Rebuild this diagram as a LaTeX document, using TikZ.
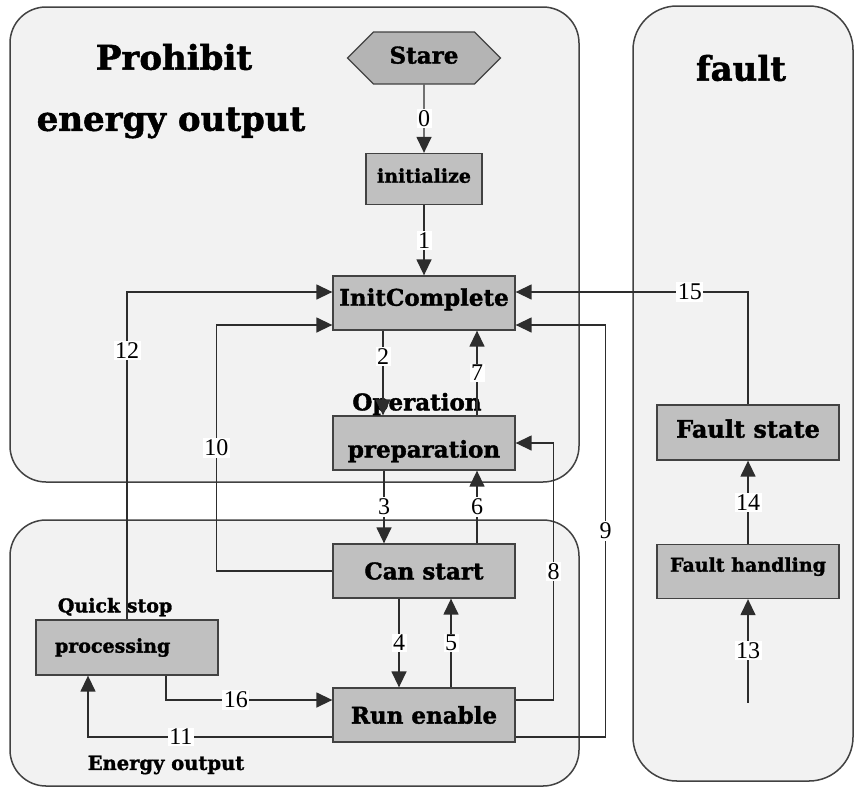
\documentclass[tikz,border=0pt]{standalone}
\usepackage{fontspec}
\setmainfont{DejaVu Serif}[BoldFeatures={FakeBold=1.5}]
\newfontfamily\numfont{Liberation Serif}
\usepackage{tikz}
\usetikzlibrary{shapes, arrows.meta, positioning}
\definecolor{boxgray}{RGB}{192,192,192}
\definecolor{stategray}{RGB}{180,180,180}
\definecolor{areagray}{RGB}{242,242,242}
\definecolor{linegray}{RGB}{45,45,45}
\newcommand{\boxfont}{\fontsize{23}{26}\selectfont\bfseries}
\newcommand{\smallboxfont}{\fontsize{19}{20}\selectfont\bfseries}
\tikzstyle{block} = [draw=linegray!90, fill=boxgray, rectangle, line width=1.3pt, minimum width=182pt, minimum height=54pt, inner sep=0pt, font=\boxfont]
\tikzstyle{area} = [draw=linegray!90, fill=areagray, line width=1.5pt, rounded corners=36pt]
\tikzstyle{title} = [font=\fontsize{34}{34}\selectfont\bfseries]
\tikzstyle{num} = [fill=white, inner sep=1.5pt, font=\fontsize{24}{24}\selectfont\numfont]
\tikzstyle{link} = [draw=linegray, line width=1.4pt, ->]

\begin{document}
\begin{tikzpicture}[x=1pt, y=1pt, >={Triangle[length=16pt, width=15pt]}]
  \useasboundingbox (0,0) rectangle (856,-790);
  % zones
  \draw [area] (10,-7) rectangle (579,-482);
  \draw [area] (10,-520) rectangle (579,-786);
  \draw [area, rounded corners=44pt] (633,-6) rectangle (853,-781);
  \node [title] (prohibit) at (174,-57) {Prohibit};
  \node [title] (energyoff) at (171,-123) {energy output};
  \node [title, font=\fontsize{34}{34}\selectfont\bfseries] (faulttitle) at (741,-68) {fault};
  \node [font=\fontsize{19.5}{19.5}\selectfont\bfseries] (energyon) at (166,-765) {Energy output};

  % states
  \node [block, shape=signal, signal to=west and east, signal pointer angle=90, fill=stategray, minimum width=153pt, minimum height=52pt, text depth=6pt, font=\fontsize{23}{23}\selectfont\bfseries] (stare) at (424,-58) {Stare};
  \node [block, below of=stare, node distance=121pt, minimum width=116pt, minimum height=51pt, text depth=7pt, font=\fontsize{19}{19}\selectfont\bfseries] (init) {initialize};
  \node [block, below of=init, node distance=124pt, text depth=12pt] (initc) {InitComplete};
  \node [block, below of=initc, node distance=140pt, text height=34pt, text depth=5pt, label={[anchor=base, xshift=-7pt, yshift=5pt, font=\boxfont]north:Operation}] (prep) {preparation};
  \node [block, below of=prep, node distance=128pt] (canstart) {Can start};
  \node [block, below of=canstart, node distance=144pt] (runen) {Run enable};
  \node [block, minimum height=55pt, text width=144pt, align=left, inner xsep=19pt, font=\smallboxfont, label={[anchor=base west, xshift=19pt, yshift=7pt, font=\smallboxfont]north west:Quick stop}] (quick) at (127,-647.5) {processing};
  \node [block, minimum height=55pt, text depth=8pt, font=\fontsize{24}{24}\selectfont\bfseries] (faultstate) at (748,-432.5) {Fault state};
  \node [block, below of=faultstate, node distance=139pt, text depth=14pt, font=\fontsize{19}{19}\selectfont\bfseries] (faulthand) {Fault handling};
  \coordinate [below of=faulthand, node distance=131pt] (faultin);

  % transitions
  \draw [link] (stare) -- node [num] {0} (init);
  \draw [link] (init) -- node [num] {1} (initc);
  \draw [link] ([xshift=-41pt]initc.south) -- node [num, pos=0.3] {2} ([xshift=-41pt]prep.north);
  \draw [link] ([xshift=53pt]prep.north) -- node [num] {7} ([xshift=53pt]initc.south);
  \draw [link] ([xshift=-40pt]prep.south) -- node [num] {3} ([xshift=-40pt]canstart.north);
  \draw [link] ([xshift=53pt]canstart.north) -- node [num] {6} ([xshift=53pt]prep.south);
  \draw [link] ([xshift=-25pt]canstart.south) -- node [num] {4} ([xshift=-25pt]runen.north);
  \draw [link] ([xshift=27pt]runen.north) -- node [num] {5} ([xshift=27pt]canstart.south);
  \draw [link] ([yshift=15pt]runen.east) -| node [num, pos=0.75] {8} ([xshift=38pt]prep.east) -- (prep.east);
  \draw [link] ([yshift=-22pt]runen.east) -| node [num, pos=0.75] {9} ([xshift=90pt, yshift=-22pt]initc.east) -- ([yshift=-22pt]initc.east);
  \draw [link] (canstart.west) -| node [num, pos=0.75] {10} ([xshift=-116pt, yshift=-22pt]initc.west) -- ([yshift=-22pt]initc.west);
  \draw [link] ([yshift=-22pt]runen.west) -| node [num, pos=0.31] {11} ([xshift=-39pt]quick.south);
  \draw [link] (quick.north) |- node [num, pos=0.41] {12} ([yshift=11pt]initc.west);
  \draw [link] (faultin) -- node [num] {13} (faulthand);
  \draw [link] (faulthand) -- node [num] {14} (faultstate);
  \draw [link] (faultstate.north) |- node [num, pos=0.625] {15} ([yshift=11pt]initc.east);
  \draw [link] ([xshift=39pt]quick.south) |- node [num, pos=0.71] {16} ([yshift=15pt]runen.west);
\end{tikzpicture}
\end{document}
